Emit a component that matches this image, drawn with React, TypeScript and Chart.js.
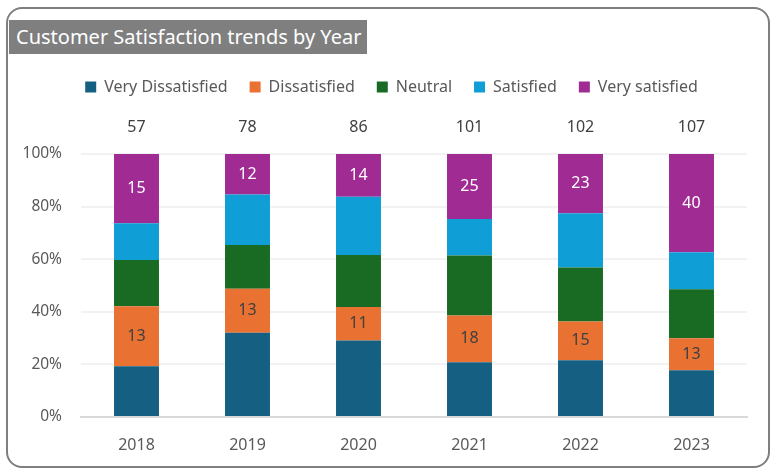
import React, { useEffect, useRef } from "react";
import { Chart, registerables } from "chart.js";

Chart.register(...registerables);

const years = ["2018", "2019", "2020", "2021", "2022", "2023"];
const veryDissatisfied = [11, 25, 25, 21, 22, 19];
const dissatisfied = [13, 13, 11, 18, 15, 13];
const neutral = [10, 13, 17, 23, 21, 20];
const satisfied = [8, 15, 19, 14, 21, 15];
const verySatisfied = [15, 12, 14, 25, 23, 40];
const totals = [57, 78, 86, 101, 102, 107];
const seriesNames = ["Very Dissatisfied", "Dissatisfied", "Neutral", "Satisfied", "Very satisfied"];
const seriesColors = ["#156082", "#E97132", "#196B24", "#0F9ED5", "#A02B93"];
const seriesValues = [veryDissatisfied, dissatisfied, neutral, satisfied, verySatisfied];
const labelledSeries = [1, 4];
const labelColors: Record<number, string> = { 1: "#404040", 4: "#ffffff" };

const FONT = "'Noto Sans', sans-serif";

export default function App() {
  const ref = useRef<HTMLCanvasElement | null>(null);

  useEffect(() => {
    if (!ref.current) return;

    const labelsPlugin = {
      id: "segLabels",
      afterInit(chart: any) {
        const lg = chart.legend;
        if (lg) {
          const orig = lg.fit.bind(lg);
          lg.fit = function () {
            orig();
            this.height = 97;
          };
        }
      },
      afterLayout(chart: any) {
        const lg = chart.legend;
        if (lg) {
          lg.left += 18;
          lg.right += 18;
        }
      },
      afterDatasetsDraw(chart: any) {
        const ctx = chart.ctx;
        ctx.save();
        ctx.font = `16px ${FONT}`;
        ctx.textAlign = "center";
        ctx.textBaseline = "middle";
        labelledSeries.forEach((di) => {
          const meta = chart.getDatasetMeta(di);
          meta.data.forEach((el: any, i: number) => {
            const p = el.getProps(["x", "y", "base"], true);
            ctx.fillStyle = labelColors[di];
            ctx.fillText(String(seriesValues[di][i]), p.x, (p.y + p.base) / 2);
          });
        });
        ctx.fillStyle = "#404040";
        totals.forEach((t, i) => {
          const x = chart.scales.x.getPixelForValue(i);
          ctx.fillText(String(t), x, chart.chartArea.top - 27);
        });
        ctx.restore();
      },
    };

    const chart = new Chart(ref.current, {
      type: "bar",
      data: {
        labels: years,
        datasets: seriesNames.map((name, si) => ({
          label: name,
          data: seriesValues[si].map((v, i) => (v / totals[i]) * 100),
          backgroundColor: seriesColors[si],
          borderWidth: 0,
          categoryPercentage: 1,
          barPercentage: 0.405,
        })),
      },
      options: {
        responsive: false,
        animation: false,
        layout: { padding: { top: 57, left: 0, right: 30, bottom: 0 } },
        plugins: {
          tooltip: { enabled: false },
          legend: {
            position: "top",
            labels: {
              boxWidth: 11,
              boxHeight: 11,
              padding: 22,
              color: "#595959",
              font: { family: FONT, size: 16 },
            },
          },
        },
        scales: {
          x: {
            stacked: true,
            grid: { display: false },
            border: { display: true, color: "#d9d9d9", width: 2 },
            ticks: { color: "#595959", font: { family: FONT, size: 16 }, padding: 11 },
            afterFit: (s: any) => {
              s.height = 57;
            },
          },
          y: {
            stacked: true,
            min: 0,
            max: 100,
            ticks: {
              stepSize: 20,
              color: "#595959",
              font: { family: FONT, size: 15.5 },
              padding: 19,
              callback: (v: any) => `${v}%`,
            },
            grid: { color: "#f2f2f2", lineWidth: 2, drawTicks: false },
            border: { display: false },
            afterFit: (s: any) => {
              s.width = 81;
            },
          },
        },
      },
      plugins: [labelsPlugin],
    } as any);

    return () => chart.destroy();
  }, []);

  return (
    <div style={{ position: "absolute", left: 0, top: 0, width: 777, height: 474, background: "#fff" }}>
      <canvas ref={ref} width={777} height={474} style={{ position: "absolute", left: 0, top: 0 }} />
      <div
        style={{
          position: "absolute",
          left: 6,
          top: 7,
          width: 764,
          height: 461,
          border: "2px solid #7f7f7f",
          borderRadius: 16,
          boxSizing: "border-box",
          pointerEvents: "none",
        }}
      />
      <div
        style={{
          position: "absolute",
          left: 9,
          top: 20,
          width: 358,
          height: 34,
          background: "#7f7f7f",
          color: "#ffffff",
          fontFamily: FONT,
          fontSize: 20,
          lineHeight: "34px",
          paddingLeft: 7,
          boxSizing: "border-box",
          whiteSpace: "nowrap",
        }}
      >
        Customer Satisfaction trends by Year
      </div>
    </div>
  );
}
